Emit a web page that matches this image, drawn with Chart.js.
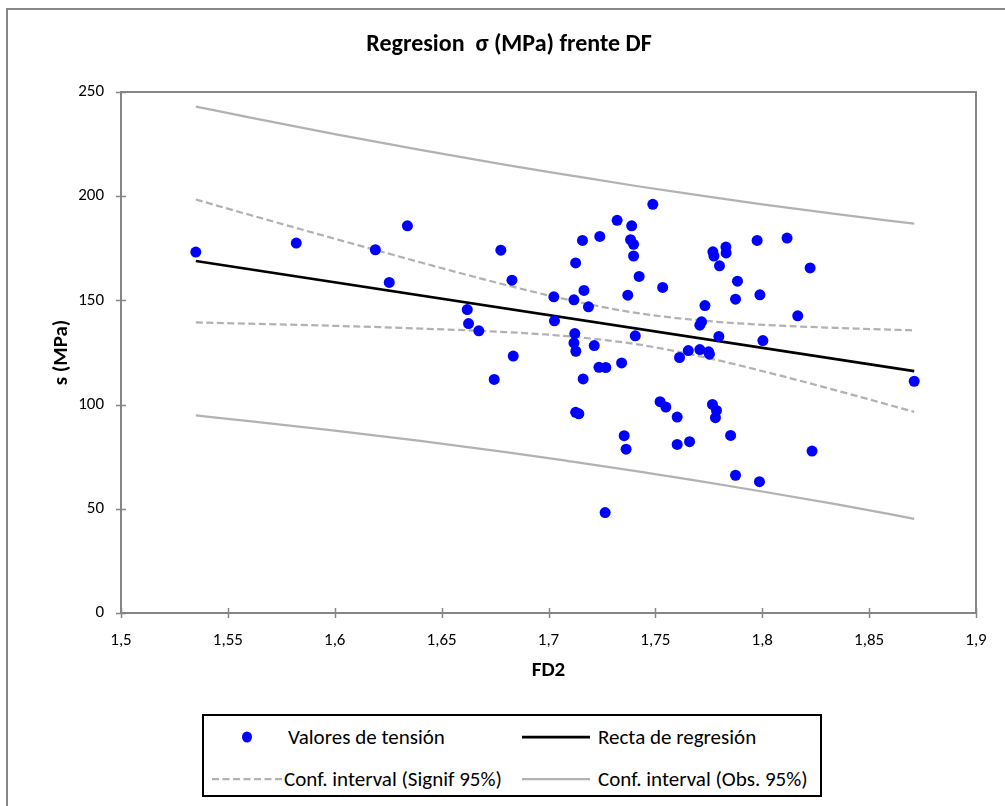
<!DOCTYPE html>
<html>
<head>
<meta charset="utf-8">
<title>Regresion σ (MPa) frente DF</title>
<script src="https://cdn.jsdelivr.net/npm/chart.js@4.4.1/dist/chart.umd.min.js"></script>
<style>
  html, body { margin: 0; padding: 0; background: #fff; }
  #wrap { position: relative; width: 1005px; height: 806px; overflow: hidden; }
  #chart { position: absolute; left: 0; top: 0; }
  .legend {
    position: absolute; left: 202px; top: 714px; width: 616px; height: 79px;
    border: 2px solid #000; background: #fff;
    font-family: Carlito, "Liberation Sans Narrow", "Open Sans", sans-serif; font-size: 21px; color: #000;
  }
  .legend .txt { position: absolute; line-height: 24px; white-space: nowrap; }
  .legend svg { position: absolute; overflow: visible; }
</style>
</head>
<body>
<div id="wrap">
  <canvas id="chart" width="1005" height="806"></canvas>
  <div class="legend">
    <svg style="left:38px;top:15px" width="10" height="12"><ellipse cx="5" cy="6" rx="5" ry="5.5" fill="#0000FF"/></svg>
    <div class="txt" style="left:84px;top:9px">Valores de tensión</div>
    <svg style="left:318px;top:19px" width="68" height="4"><line x1="0" y1="2" x2="68" y2="2" stroke="#000" stroke-width="2.75"/></svg>
    <div class="txt" style="left:394px;top:9px">Recta de regresión</div>
    <svg style="left:8px;top:61px" width="70" height="4"><line x1="0" y1="2" x2="70" y2="2" stroke="#B2B2B2" stroke-width="2.25" stroke-dasharray="7 3.5"/></svg>
    <div class="txt" style="left:80px;top:51px">Conf. interval (Signif 95%)</div>
    <svg style="left:318px;top:61px" width="68" height="4"><line x1="0" y1="2" x2="68" y2="2" stroke="#B2B2B2" stroke-width="2.25"/></svg>
    <div class="txt" style="left:394px;top:51px">Conf. interval (Obs. 95%)</div>
  </div>
</div>
<script>
// Measured samples: fractal dimension FD2 and tensile strength (MPa)
const fd2 = [
  1.535, 1.582, 1.619, 1.6255, 1.634, 1.662, 1.6626, 1.6674, 1.6746, 1.6777,
  1.6829, 1.6835, 1.7025, 1.7028, 1.7119, 1.7127, 1.7123, 1.7119, 1.7128, 1.7127,
  1.7142, 1.7159, 1.7166, 1.7162, 1.7187, 1.7214, 1.724, 1.7236, 1.7268, 1.7265,
  1.7321, 1.7342, 1.7354, 1.7363, 1.7371, 1.7389, 1.7384, 1.7398, 1.7398, 1.7406,
  1.7424, 1.7488, 1.7522, 1.7534, 1.7549, 1.7602, 1.7602, 1.7613, 1.7654, 1.766,
  1.7708, 1.7716, 1.7708, 1.7732, 1.7749, 1.7753, 1.7767, 1.7769, 1.7774, 1.7781,
  1.7786, 1.7797, 1.78, 1.783, 1.7831, 1.7852, 1.7875, 1.7875, 1.7884, 1.7976,
  1.7987, 1.7989, 1.8003, 1.8116, 1.8166, 1.8224, 1.8233, 1.8711
];
const tension = [
  173.2, 177.5, 174.3, 158.6, 185.8, 145.6, 138.9, 135.4, 112.1, 174.1,
  159.7, 123.3, 151.7, 140.2, 150.3, 168.0, 134.1, 129.6, 125.6, 96.3,
  95.6, 178.8, 154.8, 112.3, 146.9, 128.3, 180.7, 117.9, 117.8, 48.2,
  188.4, 120.0, 85.1, 78.6, 152.5, 185.8, 179.1, 176.9, 171.3, 133.0,
  161.5, 196.1, 101.4, 156.2, 98.8, 94.0, 80.9, 122.6, 125.9, 82.2,
  126.4, 139.7, 138.1, 147.5, 125.3, 124.2, 100.1, 173.3, 171.3, 93.7,
  97.2, 132.7, 166.6, 175.6, 172.8, 85.2, 150.6, 66.1, 159.2, 178.8,
  63.0, 152.7, 130.7, 179.9, 142.6, 165.6, 77.7, 111.2
];

// Regression line end points
const regX = [1.535, 1.8711];
const regY = [168.9, 116.1];

// Confidence bands, sampled along FD2
const bandX       = [1.535, 1.56, 1.6, 1.64, 1.68, 1.71, 1.741, 1.77, 1.8, 1.835, 1.8711];
const signifUpper = [198.4, 191.1, 179.6, 168.3, 157.4, 150.1, 144.0, 140.5, 138.3, 136.8, 135.6];
const signifLower = [139.4, 138.8, 137.8, 136.5, 134.8, 132.7, 129.0, 123.4, 116.1, 106.7, 96.5];
const obsUpper    = [243.0, 237.8, 229.8, 222.2, 215.0, 210.0, 204.9, 200.5, 196.1, 191.4, 186.8];
const obsLower    = [94.8, 92.1, 87.5, 82.6, 77.2, 72.8, 68.1, 63.4, 58.3, 52.1, 45.2];

// Axis ticks
const xTicks = ['1,5', '1,55', '1,6', '1,65', '1,7', '1,75', '1,8', '1,85', '1,9'];
const yTicks = ['0', '50', '100', '150', '200', '250'];

const pts = (xs, ys) => xs.map((x, i) => ({ x: x, y: ys[i] }));

const FONT = 'Carlito, "Liberation Sans Narrow", "Open Sans", sans-serif';
const GREY = '#868686';
const BAND = '#B2B2B2';

// Outer frame, plot border and crossing tick marks
const framePlugin = {
  id: 'frame',
  beforeDraw(chart) {
    const c = chart.ctx;
    c.save();
    c.fillStyle = '#fff';
    c.fillRect(0, 0, chart.width, chart.height);
    c.strokeStyle = GREY;
    c.lineWidth = 2;
    c.beginPath();
    c.moveTo(7, chart.height);
    c.lineTo(7, 9);
    c.lineTo(chart.width, 9);
    c.stroke();
    c.restore();
  },
  afterDraw(chart) {
    const c = chart.ctx;
    const a = chart.chartArea;
    const xs = chart.scales.x, ys = chart.scales.y;
    c.save();
    c.strokeStyle = GREY;
    c.lineWidth = 2;
    c.strokeRect(a.left, a.top, a.right - a.left, a.bottom - a.top);
    c.lineWidth = 1.5;
    c.beginPath();
    xs.ticks.forEach(t => {
      const p = Math.round(xs.getPixelForValue(t.value)) + 0.5;
      c.moveTo(p, a.bottom - 5); c.lineTo(p, a.bottom + 5);
    });
    ys.ticks.forEach(t => {
      const p = Math.round(ys.getPixelForValue(t.value)) + 0.5;
      c.moveTo(a.left - 5, p); c.lineTo(a.left + 5, p);
    });
    c.stroke();
    c.restore();
  }
};

new Chart(document.getElementById('chart'), {
  type: 'scatter',
  data: {
    datasets: [
      {
        label: 'Valores de tensión',
        data: pts(fd2, tension),
        backgroundColor: '#0000FF',
        borderColor: '#0000FF',
        borderWidth: 0,
        pointRadius: 5.5,
        pointHoverRadius: 5.5,
        order: 0
      },
      {
        label: 'Recta de regresión',
        data: pts(regX, regY),
        showLine: true,
        borderColor: '#000',
        borderWidth: 2.75,
        pointRadius: 0,
        order: 1
      },
      {
        label: 'Conf. interval (Signif 95%)',
        data: pts(bandX, signifUpper),
        showLine: true,
        borderColor: BAND,
        borderWidth: 2.25,
        borderDash: [7, 3.5],
        cubicInterpolationMode: 'monotone',
        pointRadius: 0,
        order: 2
      },
      {
        label: 'Conf. interval (Signif 95%)',
        data: pts(bandX, signifLower),
        showLine: true,
        borderColor: BAND,
        borderWidth: 2.25,
        borderDash: [7, 3.5],
        cubicInterpolationMode: 'monotone',
        pointRadius: 0,
        order: 2
      },
      {
        label: 'Conf. interval (Obs. 95%)',
        data: pts(bandX, obsUpper),
        showLine: true,
        borderColor: BAND,
        borderWidth: 2.25,
        cubicInterpolationMode: 'monotone',
        pointRadius: 0,
        order: 3
      },
      {
        label: 'Conf. interval (Obs. 95%)',
        data: pts(bandX, obsLower),
        showLine: true,
        borderColor: BAND,
        borderWidth: 2.25,
        cubicInterpolationMode: 'monotone',
        pointRadius: 0,
        order: 3
      }
    ]
  },
  options: {
    responsive: false,
    animation: false,
    events: [],
    layout: { padding: { left: 42, right: 29, top: 0, bottom: 113 } },
    plugins: {
      legend: { display: false },
      tooltip: { enabled: false },
      title: {
        display: true,
        text: 'Regresion  σ (MPa) frente DF',
        color: '#000',
        font: { family: FONT, size: 24, weight: 'bold', lineHeight: 1.2 },
        padding: { top: 30.6, bottom: 32.6 }
      }
    },
    scales: {
      x: {
        type: 'linear',
        min: 1.5,
        max: 1.9,
        afterFit(s) { s.height = 80; },
        afterBuildTicks(s) { s.ticks = xTicks.map(t => ({ value: parseFloat(t.replace(',', '.')) })); },
        grid: { display: false },
        border: { display: false },
        ticks: {
          padding: 10,
          color: '#000',
          maxRotation: 0,
          autoSkip: false,
          font: { family: FONT, size: 17 },
          callback: (v, i) => xTicks[i]
        },
        title: {
          display: true,
          text: 'FD2',
          color: '#000',
          font: { family: FONT, size: 21, weight: 'bold', lineHeight: 1.2 },
          padding: { top: 0, bottom: 10 }
        }
      },
      y: {
        type: 'linear',
        min: 0,
        max: 250,
        afterFit(s) { s.width = 79; },
        afterBuildTicks(s) { s.ticks = yTicks.map(t => ({ value: parseFloat(t) })); },
        grid: { display: false },
        border: { display: false },
        ticks: {
          padding: 9,
          color: '#000',
          autoSkip: false,
          font: { family: FONT, size: 17 },
          callback: (v, i) => yTicks[i]
        },
        title: {
          display: true,
          text: 's (MPa)',
          color: '#000',
          font: { family: FONT, size: 21, weight: 'bold', lineHeight: 1.2 },
          padding: { top: 7.4, bottom: 0 }
        }
      }
    }
  },
  plugins: [framePlugin]
});
</script>
</body>
</html>
